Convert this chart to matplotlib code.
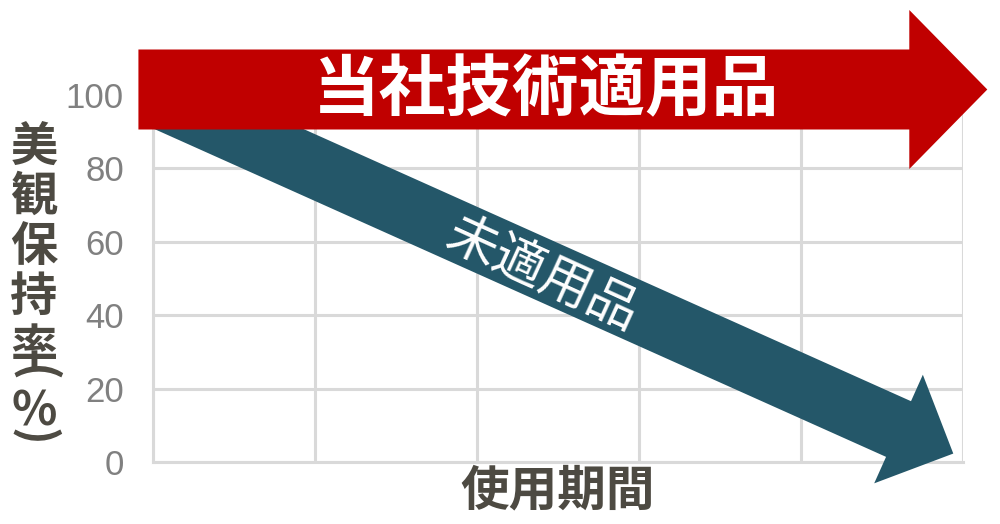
import matplotlib
matplotlib.use("Agg")
import matplotlib.pyplot as plt
from matplotlib.patches import FancyArrowPatch

plt.rcParams["font.family"] = ["Noto Sans CJK JP", "DejaVu Sans"]

# grid positions (period is unitless, no tick labels)
periods = [0, 1, 2, 3, 4, 5]
retention_ticks = [0, 20, 40, 60, 80, 100]

# our treated product: stays at ~100 for the whole period
ours_x = [-0.09, 5.15]
ours_y = [101.5, 101.5]
ours_label = "当社技術適用品"

# untreated product: drops from 100 to near 0
plain_x = [0.0, 4.94]
plain_y = [100.0, 2.3]
plain_label = "未適用品"

xlabel = "使用期間"
# vertical label, characters stacked; brackets turned to vertical form
ylabel_chars = ["美", "観", "保", "持", "率", "(", "%", ")"]
ylabel_rot = [0, 0, 0, 0, 0, -90, 0, -90]
ylabel_pos = [147, 197, 247, 297, 349, 374, 411, 437]  # pixel rows

red = "#C00000"
blue = "#245769"
grid_col = "#D9D9D9"
label_col = "#4D4A42"

fig = plt.figure(figsize=(10, 5.24), dpi=100)
ax = fig.add_axes([0.153, 1 - 462 / 524, 0.81, (462 - 95) / 524])

ax.set_xlim(periods[0], periods[-1])
ax.set_ylim(retention_ticks[0], retention_ticks[-1])
ax.set_xticks(periods)
ax.set_xticklabels([])
ax.set_yticks(retention_ticks)
ax.tick_params(length=0, pad=21)
for lab in ax.get_yticklabels():
    lab.set_fontfamily("Liberation Sans")
    lab.set_fontsize(25)
    lab.set_color("#808080")
ax.grid(True, color=grid_col, linewidth=2.2)
ax.set_axisbelow(True)
for side in ["top", "right"]:
    ax.spines[side].set_visible(False)
for side in ["left", "bottom"]:
    ax.spines[side].set_color(grid_col)
    ax.spines[side].set_linewidth(2.2)

px = 0.72  # points per pixel

blue_arrow = FancyArrowPatch(
    (plain_x[0], plain_y[0]), (plain_x[1], plain_y[1]),
    arrowstyle=f"simple,head_length={60*px},head_width={119*px},tail_width={61*px}",
    mutation_scale=1, color=blue, lw=0, shrinkA=0, shrinkB=0,
    clip_on=False, zorder=3)
ax.add_patch(blue_arrow)

red_arrow = FancyArrowPatch(
    (ours_x[0], ours_y[0]), (ours_x[1], ours_y[1]),
    arrowstyle=f"simple,head_length={78*px},head_width={159*px},tail_width={80*px}",
    mutation_scale=1, color=red, lw=0, shrinkA=0, shrinkB=0,
    clip_on=False, zorder=4)
ax.add_patch(red_arrow)

fig.text(0.546, 1 - 91 / 524, ours_label, color="white", fontsize=48,
         fontweight="bold", ha="center", va="center", zorder=5)
fig.text(0.5415, 1 - 275 / 524, plain_label, color="white", fontsize=37,
         rotation=-24.5, rotation_mode="anchor", ha="center", va="center", zorder=5)

fig.text(0.558, 1 - 491 / 524, xlabel, color=label_col, fontsize=35,
         fontweight="bold", ha="center", va="center")
for ch, rot, yp in zip(ylabel_chars, ylabel_rot, ylabel_pos):
    fig.text(0.034, 1 - yp / 524, ch, color=label_col, fontsize=34,
             fontweight="bold", rotation=rot, ha="center", va="center")

fig.savefig("out.png", dpi=100)
